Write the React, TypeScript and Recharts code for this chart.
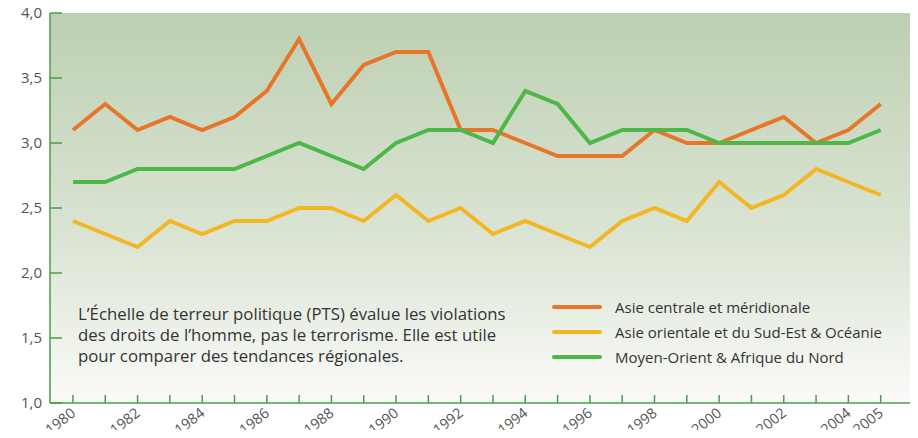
import { Line, LineChart, ReferenceArea, XAxis, YAxis } from 'recharts';

const YEARS = [
  1980, 1981, 1982, 1983, 1984, 1985, 1986, 1987, 1988, 1989, 1990, 1991, 1992,
  1993, 1994, 1995, 1996, 1997, 1998, 1999, 2000, 2001, 2002, 2003, 2004, 2005,
];
const ASIE_CENTRALE = [
  3.1, 3.3, 3.1, 3.2, 3.1, 3.2, 3.4, 3.8, 3.3, 3.6, 3.7, 3.7, 3.1,
  3.1, 3.0, 2.9, 2.9, 2.9, 3.1, 3.0, 3.0, 3.1, 3.2, 3.0, 3.1, 3.3,
];
const ASIE_ORIENTALE = [
  2.4, 2.3, 2.2, 2.4, 2.3, 2.4, 2.4, 2.5, 2.5, 2.4, 2.6, 2.4, 2.5,
  2.3, 2.4, 2.3, 2.2, 2.4, 2.5, 2.4, 2.7, 2.5, 2.6, 2.8, 2.7, 2.6,
];
const MOYEN_ORIENT = [
  2.7, 2.7, 2.8, 2.8, 2.8, 2.8, 2.9, 3.0, 2.9, 2.8, 3.0, 3.1, 3.1,
  3.0, 3.4, 3.3, 3.0, 3.1, 3.1, 3.1, 3.0, 3.0, 3.0, 3.0, 3.0, 3.1,
];
const Y_TICKS = [1, 1.5, 2, 2.5, 3, 3.5, 4];
const LABELLED_YEARS = [1980, 1982, 1984, 1986, 1988, 1990, 1992, 1994, 1996, 1998, 2000, 2002, 2004, 2005];

const SERIES = [
  { key: 'centrale', name: 'Asie centrale et méridionale', color: '#e8762a' },
  { key: 'orientale', name: 'Asie orientale et du Sud-Est & Océanie', color: '#f3b624' },
  { key: 'moyen', name: 'Moyen-Orient & Afrique du Nord', color: '#4db748' },
];

const NOTE = [
  'L’Échelle de terreur politique (PTS) évalue les violations',
  'des droits de l’homme, pas le terrorisme. Elle est utile',
  'pour comparer des tendances régionales.',
];

const data = YEARS.map((year, i) => ({
  year,
  centrale: ASIE_CENTRALE[i],
  orientale: ASIE_ORIENTALE[i],
  moyen: MOYEN_ORIENT[i],
}));

const FONT = '"Open Sans", "DejaVu Sans", sans-serif';
const AXIS = '#4a9e48';

function YTick(props: any) {
  const { x, y, payload } = props;
  return (
    <g>
      <line x1={x + 8} x2={x + 20} y1={y} y2={y} stroke={AXIS} strokeWidth={1.5} />
      <text x={x} y={y} dy={5} textAnchor="end" fill="#555" fontSize={15} fontFamily={FONT}>
        {payload.value.toFixed(1).replace('.', ',')}
      </text>
    </g>
  );
}

function XTick(props: any) {
  const { x, y, payload } = props;
  const show = LABELLED_YEARS.includes(payload.value);
  const ax = x + 3.5;
  const ay = y + 12;
  return (
    <g>
      <line x1={x} x2={x} y1={y} y2={y - 8} stroke={AXIS} strokeWidth={1.5} />
      {show && (
        <text
          x={ax}
          y={ay}
          textAnchor="end"
          fill="#555"
          fontSize={14.5}
          fontFamily={FONT}
          transform={`rotate(-38 ${ax} ${ay})`}
        >
          {payload.value}
        </text>
      )}
    </g>
  );
}

export default function App() {
  return (
    <div style={{ position: 'relative', width: 918, height: 438, margin: -8 }}>
      <LineChart width={918} height={438} data={data} margin={{ top: 13, right: 5, bottom: 0, left: 0 }}>
        <defs>
          <linearGradient id="bg" x1="0" y1="0" x2="0" y2="1">
            <stop offset="0%" stopColor="#bdd0b2" />
            <stop offset="60%" stopColor="#dce5d5" />
            <stop offset="100%" stopColor="#fbfbf9" />
          </linearGradient>
        </defs>
        <ReferenceArea x1={1979.29} x2={2006} y1={1} y2={4} fill="url(#bg)" fillOpacity={1} stroke="none" ifOverflow="visible" />
        <XAxis
          dataKey="year"
          type="number"
          domain={[1979.29, 2006]}
          ticks={YEARS}
          interval={0}
          tickSize={0}
          tickMargin={0}
          tick={<XTick />}
          axisLine={{ stroke: AXIS, strokeWidth: 1.5 }}
          tickLine={false}
          height={35}
        />
        <YAxis
          domain={[1, 4]}
          ticks={Y_TICKS}
          width={50}
          tickSize={0}
          tickMargin={8}
          tick={<YTick />}
          axisLine={{ stroke: AXIS, strokeWidth: 1.5 }}
          tickLine={false}
        />
        {SERIES.map((s) => (
          <Line
            key={s.key}
            dataKey={s.key}
            name={s.name}
            stroke={s.color}
            strokeWidth={4}
            dot={false}
            type="linear"
            isAnimationActive={false}
          />
        ))}
      </LineChart>
      <div
        style={{
          position: 'absolute',
          left: 78,
          top: 303,
          fontFamily: FONT,
          fontSize: 16.8,
          lineHeight: '21px',
          color: '#333',
        }}
      >
        {NOTE.map((line) => (
          <div key={line}>{line}</div>
        ))}
      </div>
      <div style={{ position: 'absolute', left: 552, top: 294, fontFamily: FONT, fontSize: 15, color: '#333' }}>
        {SERIES.map((s) => (
          <div key={s.key} style={{ display: 'flex', alignItems: 'center', height: 25 }}>
            <span
              style={{ display: 'inline-block', width: 50, height: 4, background: s.color, borderRadius: 2, marginRight: 13 }}
            />
            {s.name}
          </div>
        ))}
      </div>
    </div>
  );
}
